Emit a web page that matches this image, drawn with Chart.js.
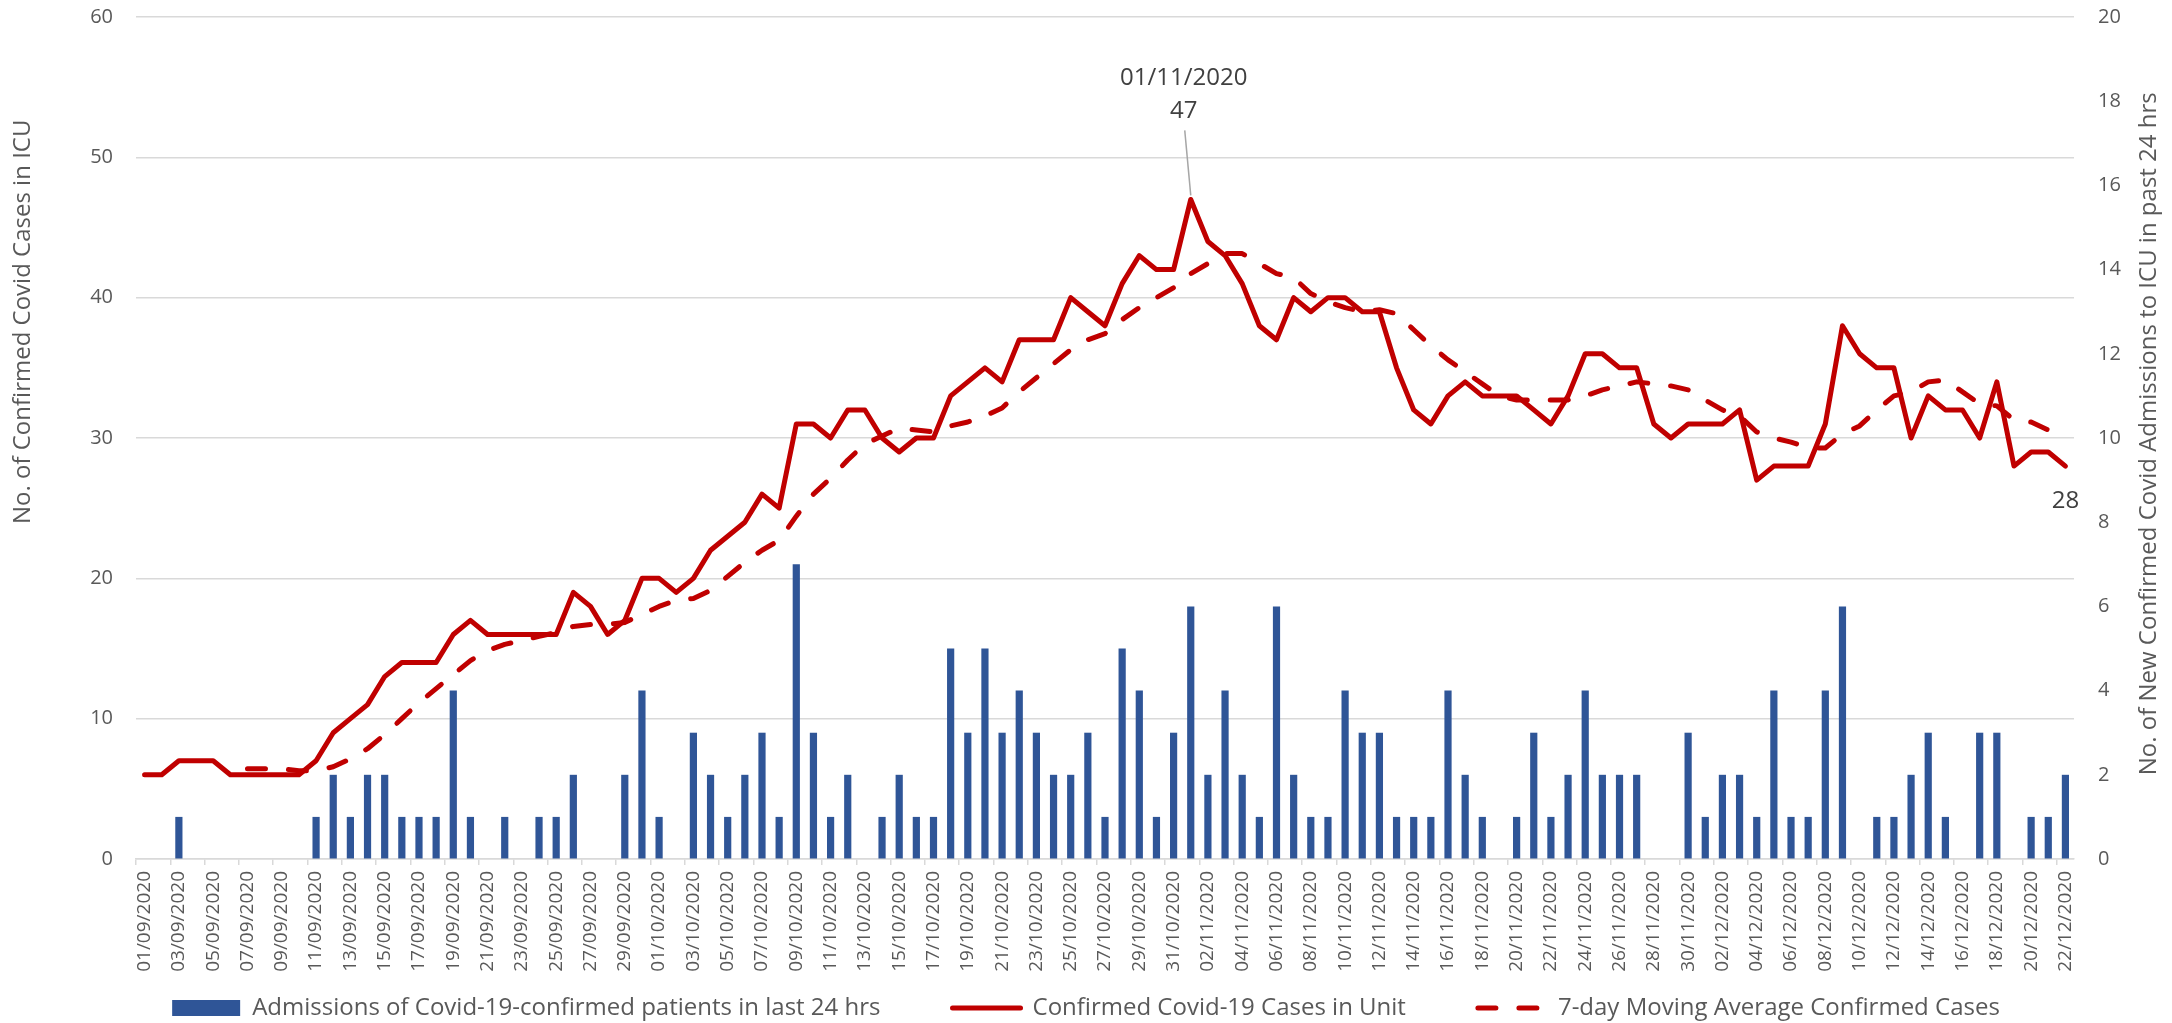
<!DOCTYPE html>
<html>
<head>
<meta charset="utf-8">
<title>ICU Covid cases</title>
<script src="https://cdn.jsdelivr.net/npm/chart.js@4.4.1/dist/chart.umd.min.js"></script>
<style>
  html, body { margin: 0; padding: 0; background: #fff; }
  #wrap { width: 2172px; height: 1023px; position: relative; }
</style>
</head>
<body>
<div id="wrap"><canvas id="icu-chart"></canvas></div>
<script>
// Daily dates on the category axis
const dates = [
  '01/09/2020','02/09/2020','03/09/2020','04/09/2020','05/09/2020','06/09/2020','07/09/2020','08/09/2020','09/09/2020','10/09/2020',
  '11/09/2020','12/09/2020','13/09/2020','14/09/2020','15/09/2020','16/09/2020','17/09/2020','18/09/2020','19/09/2020','20/09/2020',
  '21/09/2020','22/09/2020','23/09/2020','24/09/2020','25/09/2020','26/09/2020','27/09/2020','28/09/2020','29/09/2020','30/09/2020',
  '01/10/2020','02/10/2020','03/10/2020','04/10/2020','05/10/2020','06/10/2020','07/10/2020','08/10/2020','09/10/2020','10/10/2020',
  '11/10/2020','12/10/2020','13/10/2020','14/10/2020','15/10/2020','16/10/2020','17/10/2020','18/10/2020','19/10/2020','20/10/2020',
  '21/10/2020','22/10/2020','23/10/2020','24/10/2020','25/10/2020','26/10/2020','27/10/2020','28/10/2020','29/10/2020','30/10/2020','31/10/2020',
  '01/11/2020','02/11/2020','03/11/2020','04/11/2020','05/11/2020','06/11/2020','07/11/2020','08/11/2020','09/11/2020','10/11/2020',
  '11/11/2020','12/11/2020','13/11/2020','14/11/2020','15/11/2020','16/11/2020','17/11/2020','18/11/2020','19/11/2020','20/11/2020',
  '21/11/2020','22/11/2020','23/11/2020','24/11/2020','25/11/2020','26/11/2020','27/11/2020','28/11/2020','29/11/2020','30/11/2020',
  '01/12/2020','02/12/2020','03/12/2020','04/12/2020','05/12/2020','06/12/2020','07/12/2020','08/12/2020','09/12/2020','10/12/2020',
  '11/12/2020','12/12/2020','13/12/2020','14/12/2020','15/12/2020','16/12/2020','17/12/2020','18/12/2020','19/12/2020','20/12/2020',
  '21/12/2020','22/12/2020'
];

// Admissions in last 24 hrs (right axis)
const admissions = [
  0,0,1,0,0,0,0,0,0,0,  1,2,1,2,2,1,1,1,4,1,  0,1,0,1,1,2,0,0,2,4,
  1,0,3,2,1,2,3,1,7,3,  1,2,0,1,2,1,1,5,3,5,  3,4,3,2,2,3,1,5,4,1,3,
  6,2,4,2,1,6,2,1,1,4,  3,3,1,1,1,4,2,1,0,1,  3,1,2,4,2,2,2,0,0,3,
  1,2,2,1,4,1,1,4,6,0,  1,1,2,3,1,0,3,3,0,1,1,2
];

// Confirmed cases in unit (left axis)
const confirmed = [
  6,6,7,7,7,6,6,6,6,6,  7,9,10,11,13,14,14,14,16,17,  16,16,16,16,16,19,18,16,17,20,
  20,19,20,22,23,24,26,25,31,31,  30,32,32,30,29,30,30,33,34,35,  34,37,37,37,40,39,38,41,43,42,42,
  47,44,43,41,38,37,40,39,40,40,  39,39,35,32,31,33,34,33,33,33,  32,31,33,36,36,35,35,31,30,31,
  31,31,32,27,28,28,28,31,38,36,  35,35,30,33,32,32,30,34,28,29,29,28
];

// 7-day moving average as plotted
const movingAvg = [
  null,null,null,null,null,null,6.43,6.43,6.43,6.29,
  6.29,6.57,7.14,7.86,8.86,10.00,11.14,12.14,13.14,14.14,
  14.86,15.29,15.57,15.86,16.14,16.57,16.71,16.71,16.86,17.43,
  18.00,18.43,18.57,19.14,20.14,21.14,22.00,22.71,24.43,26.00,
  27.14,28.43,29.57,30.14,30.71,30.57,30.43,30.86,31.14,31.57,
  32.14,33.29,34.29,35.29,36.29,37.00,37.43,38.43,39.29,40.00,40.71,
  41.71,42.43,43.14,43.14,42.43,41.71,41.43,40.29,39.71,39.29,
  39.00,39.14,38.86,37.71,36.57,35.57,34.71,33.86,33.00,32.71,
  32.71,32.71,32.71,33.00,33.43,33.71,34.00,33.86,33.71,33.43,
  32.71,32.00,31.57,30.43,30.00,29.71,29.29,29.29,30.29,30.86,
  32.00,33.00,33.29,34.00,34.14,33.29,32.43,32.29,31.29,31.14,
  30.57,30.00
];

const leftTitle = 'No. of Confirmed Covid Cases in ICU';
const rightTitle = 'No. of New Confirmed Covid Admissions to ICU in past 24 hrs';

const textGrey = '#595959';
const gridGrey = '#D9D9D9';
const clear = 'rgba(0,0,0,0)';
const font = '"Open Sans", "Noto Sans", sans-serif';

// axis titles, point labels, legend placement
const extrasPlugin = {
  id: 'extras',
  afterLayout(chart) {
    // legend row sits just under the rotated date labels
    const lg = chart.legend;
    lg.top = chart.chartArea.bottom + 65;
    lg.bottom = chart.height;
    lg.height = lg.bottom - lg.top;
  },
  afterDatasetsDraw(chart) {
    const ctx = chart.ctx;
    const meta = chart.getDatasetMeta(1);
    const data = chart.data.datasets[1].data;
    let peak = 0;
    data.forEach((v, i) => { if (v > data[peak]) peak = i; });
    const last = data.length - 1;

    ctx.save();
    ctx.fillStyle = '#404040';
    ctx.font = '24px ' + font;
    ctx.textAlign = 'center';
    ctx.textBaseline = 'middle';

    const p = meta.data[peak];
    ctx.strokeStyle = '#A6A6A6';
    ctx.lineWidth = 1.5;
    ctx.beginPath();
    ctx.moveTo(p.x - 6, p.y - 69);
    ctx.lineTo(p.x, p.y - 4);
    ctx.stroke();
    ctx.fillText(chart.data.labels[peak], p.x - 7, p.y - 121);
    ctx.fillText(String(data[peak]), p.x - 7, p.y - 88);

    const q = meta.data[last];
    ctx.fillText(String(data[last]), q.x, q.y + 35);
    ctx.restore();
  },
  afterDraw(chart) {
    const ctx = chart.ctx;
    const area = chart.chartArea;
    const h = area.bottom - area.top;
    ctx.save();
    ctx.fillStyle = textGrey;
    ctx.font = '24px ' + font;
    ctx.textAlign = 'center';
    ctx.textBaseline = 'middle';
    ctx.translate(23, area.top + h * 0.362);
    ctx.rotate(-Math.PI / 2);
    ctx.fillText(leftTitle, 0, 0);
    ctx.restore();

    ctx.save();
    ctx.fillStyle = textGrey;
    ctx.font = '24px ' + font;
    ctx.textAlign = 'center';
    ctx.textBaseline = 'middle';
    ctx.translate(2149, area.top + h * 0.495);
    ctx.rotate(-Math.PI / 2);
    ctx.fillText(rightTitle, 0, 0);
    ctx.restore();
  }
};

const ctx = document.getElementById('icu-chart').getContext('2d');
new Chart(ctx, {
  data: {
    labels: dates,
    datasets: [{
      type: 'bar',
      label: 'Admissions of Covid-19-confirmed patients in last 24 hrs',
      data: admissions,
      yAxisID: 'y1',
      backgroundColor: '#2F5597',
      borderWidth: 0,
      barPercentage: 0.42,
      categoryPercentage: 1,
      order: 3
    }, {
      type: 'line',
      label: 'Confirmed Covid-19 Cases in Unit',
      data: confirmed,
      yAxisID: 'y',
      borderColor: '#C00000',
      backgroundColor: '#C00000',
      borderWidth: 5,
      borderJoinStyle: 'round',
      borderCapStyle: 'round',
      pointRadius: 0,
      tension: 0,
      order: 2
    }, {
      type: 'line',
      label: '7-day Moving Average Confirmed Cases',
      data: movingAvg,
      yAxisID: 'y',
      borderColor: '#C00000',
      backgroundColor: '#C00000',
      borderWidth: 5,
      borderDash: [18, 23],
      borderJoinStyle: 'round',
      borderCapStyle: 'round',
      pointRadius: 0,
      tension: 0,
      order: 1
    }]
  },
  options: {
    responsive: true,
    maintainAspectRatio: false,
    animation: false,
    devicePixelRatio: 1,
    layout: { padding: { top: 17, left: 0, right: 0, bottom: 0 } },
    plugins: {
      tooltip: { enabled: false },
      legend: {
        position: 'bottom',
        maxHeight: 44,
        labels: {
          usePointStyle: true,
          pointStyleWidth: 68,
          boxHeight: 16,
          padding: 72,
          color: textGrey,
          font: { family: font, size: 24 },
          generateLabels: chart => chart.data.datasets.map((ds, i) => ({
            text: ds.label,
            fillStyle: ds.backgroundColor,
            strokeStyle: ds.borderColor || ds.backgroundColor,
            lineWidth: ds.type === 'bar' ? 0 : ds.borderWidth,
            lineDash: ds.borderDash || [],
            lineCap: 'round',
            pointStyle: ds.type === 'bar' ? 'rect' : 'line',
            fontColor: textGrey,
            hidden: false,
            datasetIndex: i
          }))
        }
      }
    },
    scales: {
      x: {
        offset: true,
        afterFit: s => { s.height = 120; },
        grid: {
          offset: true,
          drawOnChartArea: false,
          drawTicks: true,
          tickLength: 6,
          lineWidth: 1.5,
          tickColor: c => (c.index % 2 === 0 ? gridGrey : clear)
        },
        border: { display: true, color: gridGrey, width: 1.5 },
        ticks: {
          autoSkip: false,
          minRotation: 90,
          maxRotation: 90,
          padding: 6,
          color: textGrey,
          font: { family: font, size: 19 },
          callback: function (v, i) { return i % 2 === 0 ? this.getLabelForValue(v) : ''; }
        }
      },
      y: {
        position: 'left',
        min: 0,
        max: 60,
        afterFit: s => { s.width = 136; },
        grid: { color: gridGrey, lineWidth: 1.5, drawTicks: true, tickLength: 20, tickColor: clear },
        border: { display: false },
        ticks: {
          stepSize: 10,
          padding: 3,
          color: textGrey,
          font: { family: font, size: 20 }
        }
      },
      y1: {
        position: 'right',
        min: 0,
        max: 20,
        afterFit: s => { s.width = 98; },
        grid: { drawOnChartArea: false, drawTicks: true, tickLength: 21, tickColor: clear },
        border: { display: false },
        ticks: {
          stepSize: 2,
          padding: 3,
          color: textGrey,
          font: { family: font, size: 20 }
        }
      }
    }
  },
  plugins: [extrasPlugin]
});
</script>
</body>
</html>
